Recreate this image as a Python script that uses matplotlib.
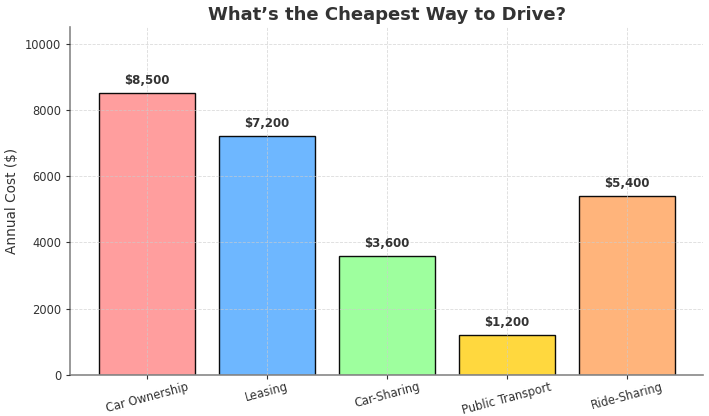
import matplotlib.pyplot as plt

categories = ['Car Ownership', 'Leasing', 'Car-Sharing', 'Public Transport', 'Ride-Sharing']
costs = [8500, 7200, 3600, 1200, 5400]
colors = ['#ff9999', '#66b3ff', '#99ff99', '#ffd633', '#ffb074']

fig = plt.figure(figsize=(7.09, 4.16), dpi=100)
ax = fig.add_axes([0.099, 0.099, 0.893, 0.836])

bars = ax.bar(categories, costs, color=colors, edgecolor='black', linewidth=1, alpha=0.95, width=0.8)
for bar, val in zip(bars, costs):
    ax.text(bar.get_x() + bar.get_width() / 2, val + 180, f'${val:,}',
            ha='center', va='bottom', fontsize=8.5, fontweight='bold', color='#333333')

ax.set_ylim(0, 10500)
ax.set_title('What\u2019s the Cheapest Way to Drive?', fontsize=13, fontweight='bold', color='#333333', pad=5)
ax.set_ylabel('Annual Cost ($)', fontsize=9.8, color='#333333')
ax.grid(True, linestyle='--', color='#cccccc', alpha=0.7, linewidth=0.6)
ax.set_axisbelow(False)
for s in ['top', 'right']:
    ax.spines[s].set_visible(False)
for s in ['left', 'bottom']:
    ax.spines[s].set_color('#888888')
    ax.spines[s].set_linewidth(1.2)
ax.tick_params(colors='#333333', labelsize=8.3, length=3)
ax.tick_params(axis='x', pad=1)
plt.setp(ax.get_xticklabels(), rotation=15)

fig.savefig('out.png', dpi=100)
